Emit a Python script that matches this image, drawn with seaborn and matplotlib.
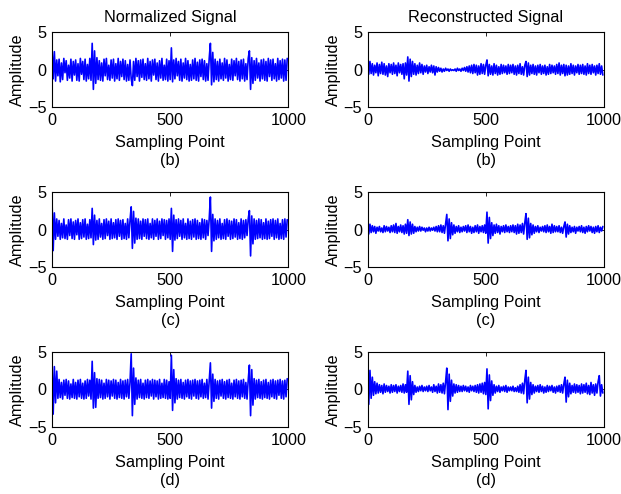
import numpy as np
import pandas as pd
import matplotlib
matplotlib.use("Agg")
import matplotlib.pyplot as plt
import seaborn as sns

# sampling points (every 5th sample of 0..999)
sample_points = np.arange(0, 1000, 5)

norm_b = [
    3.0, -1.2, 2.4, -1.5, 1.3, -0.8, 1.4, -1.6, 0.9, -1.3, 1.5, -0.4, 1.2, -1.4, 0.6, -1.1, 1.4, -1.5, 1.1, -0.7,
    1.3, -1.4, 0.8, -1.5, 1.5, -0.6, 1.1, -1.3, 1.4, -1.5, 0.7, -1.2, 1.5, -1.4, 3.5, -2.6, 2.5, -1.8, 1.6, -1.3,
    1.2, -1.4, 0.9, -1.5, 1.4, -0.8, 1.5, -1.3, 0.6, -1.4, 1.3, -1.1, 1.4, -1.5, 0.8, -1.2, 1.5, -1.4, 1.1, -0.9,
    1.4, -1.3, 1.2, -1.5, 0.7, -1.4, 1.3, -1.2, -2.1, 1.1, -1.4, 1.5, -0.9, 1.2, -1.5, 1.3, -1.0, 1.4, -1.3, 0.8,
    -1.4, 1.5, -1.2, 1.1, -1.5, 1.3, -0.7, 1.4, -1.3, 0.9, -1.5, 1.2, -1.1, 1.5, -1.4, 0.6, -1.3, 1.4, -1.5, 1.2,
    -1.3, 2.9, -1.6, 1.3, -1.2, 1.5, -0.8, 1.1, -1.4, 1.4, -1.5, 0.9, -1.1, 1.5, -1.3, 1.2, -1.5, 0.7, -1.4, 1.3,
    -1.2, 1.5, -1.4, 1.0, -1.5, 1.3, -0.9, 1.4, -1.3, 1.2, -1.5, 0.8, -1.4, 1.5, 3.5, -2.0, 2.3, -1.6, 1.4, -1.3,
    1.1, -1.5, 1.4, -1.2, 0.9, -1.4, 1.5, -1.1, 1.3, -1.5, 0.7, -1.3, 1.4, -1.4, 1.2, -0.8, 1.5, -1.3, 1.1, -1.5,
    1.3, -1.2, 1.4, -1.5, 0.8, -1.3, 1.5, 2.5, -2.6, 1.6, -1.8, 1.2, -1.4, 1.5, -1.1, 0.9, -1.5, 1.3, -1.2, 1.4,
    -1.4, 1.1, -1.5, 1.5, -0.9, 1.3, -1.4, 1.4, -1.2, 0.8, -1.5, 1.5, -1.3, 1.2, -1.1, 1.4, -1.5, 1.3, -1.4, 1.5,
]

recon_b = [
    0.9, -0.6, 1.1, -0.5, 0.8, -0.7, 0.6, -0.4, 0.9, -0.8, 0.7, -0.5, 1.0, -0.6, 0.8, -0.7, 0.5, -0.9, 0.8, -0.4,
    0.7, -0.6, 0.9, -0.5, 0.6, -0.8, 0.9, -0.4, 0.7, -0.6, 0.8, -1.2, 0.9, -0.7, 1.7, -1.5, 1.4, -0.9, 1.1, -0.6,
    0.8, -0.7, 0.6, -0.5, 0.9, -0.4, 0.7, -0.6, 0.5, -0.3, 0.6, -0.5, 0.4, -0.3, 0.6, -0.4, 0.5, -0.7, 0.4, -0.3,
    0.3, -0.2, 0.2, -0.3, 0.1, -0.2, 0.2, -0.1, 0.1, -0.2, 0.1, -0.1, 0.0, -0.1, 0.1, -0.2, 0.2, -0.1, 0.1, -0.2,
    0.2, -0.1, 0.3, -0.2, 0.4, -0.3, 0.5, -0.4, 0.6, -0.5, 0.7, -0.4, 0.6, -0.7, 0.5, -0.6, 0.8, -0.5, 0.7, -0.6,
    0.6, 1.3, -0.8, 0.7, -0.6, 0.5, -0.7, 0.8, -0.5, 0.6, -0.7, 0.4, -0.6, 0.7, -0.5, 0.6, -0.4, 0.5, -0.6, 0.7,
    -0.5, 0.6, -0.4, 0.7, -0.6, 0.5, -0.7, 0.6, -0.5, 0.8, -0.6, 0.4, -0.7, 0.6, 1.1, -0.9, 0.9, -0.7, 0.6, -0.5,
    0.7, -0.6, 0.5, -0.7, 0.6, -0.4, 0.7, -0.6, 0.5, -0.5, 0.6, -0.7, 0.4, -0.6, 0.7, -0.5, 0.6, -0.4, 0.5, -0.6,
    0.7, -0.5, 0.9, -0.7, 0.6, -0.5, 0.7, -0.8, 0.6, -0.7, 0.5, -0.6, 0.8, -0.5, 0.6, -0.7, 0.5, -0.4, 0.7, -0.6,
    0.6, -0.5, 0.7, -0.6, 0.5, -0.7, 0.8, -0.5, 0.6, -0.6, 0.7, -0.4, 0.5, -0.7, 0.6, -0.5, 0.8, -0.6, 0.5, -0.7,
]

norm_c = [
    4.0, -2.8, 2.2, -1.3, 1.4, -0.9, 1.2, -1.3, 0.8, -1.1, 1.4, -1.2, 0.6, -1.3, 1.3, -0.8, 1.4, -1.2, 1.0, -1.3,
    1.2, -0.7, 1.4, -1.3, 0.9, -1.2, 1.3, -1.0, 1.4, -1.3, 0.7, -1.2, 1.3, -1.1, 2.8, -2.0, 1.9, -1.4, 1.2, -1.3,
    1.4, -1.0, 0.8, -1.3, 1.3, -1.2, 1.4, -0.8, 1.1, -1.3, 1.4, -1.2, 0.9, -1.1, 1.3, -1.3, 1.4, -0.9, 1.2, -1.3,
    1.3, -1.2, 0.8, -1.3, 1.4, -1.1, 1.2, 3.0, -2.5, 2.4, -1.8, 1.5, -1.3, 1.4, -1.2, 1.1, -1.3, 1.4, -0.9, 1.3,
    -1.2, 1.4, -1.3, 0.8, -1.1, 1.4, -1.3, 1.2, -0.9, 1.4, -1.3, 1.1, -1.2, 1.4, -0.8, 1.3, -1.3, 1.2, -1.1, 1.4,
    -1.3, 2.8, -2.9, 1.9, -1.4, 1.3, -1.2, 1.4, -0.9, 1.2, -1.3, 1.4, -1.1, 0.8, -1.3, 1.4, -1.2, 1.1, -1.3, 1.3,
    -1.0, 1.4, -1.3, 1.2, -1.2, 0.9, -1.3, 1.4, -1.1, 1.3, -1.3, 1.2, -0.8, 1.4, 4.3, -2.9, 2.0, -1.5, 1.4, -1.3,
    1.2, -1.1, 1.4, -1.3, 0.8, -1.2, 1.3, -1.3, 1.4, -0.9, 1.2, -1.3, 1.1, -1.2, 1.4, -1.0, 1.3, -1.3, 0.9, -1.2,
    1.4, -1.3, 1.2, -1.1, 1.3, -0.8, 1.4, 2.5, -3.5, 1.8, -1.9, 1.4, -1.3, 1.2, -1.2, 1.4, -1.1, 1.3, -1.3, 0.9,
    -1.2, 1.4, -1.3, 1.1, -1.2, 1.3, -0.9, 1.4, -1.3, 1.2, -1.1, 1.4, -1.3, 0.8, -1.2, 1.3, -1.3, 1.4, -1.0, 1.3,
]

recon_c = [
    1.3, -0.6, 0.7, -0.4, 0.5, -0.3, 0.4, -0.5, 0.3, -0.2, 0.4, -0.3, 0.2, -0.4, 0.5, -0.3, 0.4, -0.2, 0.3, -0.4,
    0.5, -0.3, 0.6, -0.4, 0.8, -0.5, 0.4, -0.3, 0.6, -0.4, 0.5, -0.6, 0.7, -0.5, 1.3, -0.8, 1.0, -0.6, 0.7, -0.5,
    0.4, -0.3, 0.3, -0.2, 0.4, -0.2, 0.3, -0.1, 0.2, -0.3, 0.2, -0.2, 0.3, -0.2, 0.2, -0.1, 0.3, -0.2, 0.4, -0.3,
    0.5, -0.3, 0.6, -0.4, 0.5, -0.5, 0.7, 2.0, -1.5, 1.4, -1.2, 0.9, -0.7, 0.6, -0.5, 0.4, -0.3, 0.5, -0.4, 0.3,
    -0.3, 0.4, -0.2, 0.5, -0.4, 0.6, -0.3, 0.4, -0.5, 0.3, -0.4, 0.5, -0.3, 0.6, -0.5, 0.4, -0.3, 0.5, -0.4, 0.6,
    -0.5, 2.3, -1.8, 1.6, -1.2, 0.9, -0.8, 0.6, -0.5, 0.7, -0.4, 0.5, -0.6, 0.4, -0.3, 0.5, -0.4, 0.6, -0.3, 0.4,
    -0.4, 0.5, -0.3, 0.6, -0.4, 0.5, -0.6, 0.7, -0.5, 0.6, -0.4, 0.8, -0.6, 0.9, 2.1, -1.3, 1.5, -1.1, 0.8, -0.7,
    0.6, -0.5, 0.4, -0.3, 0.5, -0.4, 0.3, -0.2, 0.4, -0.3, 0.5, -0.4, 0.6, -0.3, 0.4, -0.5, 0.7, -0.4, 0.5, -0.3,
    0.4, -0.3, 0.5, -0.4, 0.3, -0.5, 0.4, 1.0, -1.0, 0.7, -0.6, 0.5, -0.4, 0.3, -0.3, 0.4, -0.5, 0.3, -0.2, 0.4,
    -0.3, 0.5, -0.4, 0.3, -0.5, 0.4, -0.3, 0.5, -0.2, 0.4, -0.4, 0.3, -0.5, 0.4, -0.3, 0.5, -0.4, 0.3, -0.2, 0.4,
]

norm_d = [
    3.7, -3.3, 3.0, -1.8, 2.4, -1.2, 1.3, -1.1, 0.9, -1.3, 1.2, -0.8, 1.3, -1.2, 1.1, -1.3, 0.7, -1.1, 1.3, -1.2,
    0.9, -1.3, 1.2, -1.0, 1.3, -1.2, 0.8, -1.3, 1.1, -1.2, 1.3, -0.9, 1.2, -1.3, 3.7, -2.5, 2.2, -2.4, 1.4, -1.2,
    1.3, -1.1, 1.2, -1.3, 0.8, -1.2, 1.3, -1.0, 1.2, -1.3, 1.1, -0.9, 1.3, -1.2, 1.2, -1.3, 0.9, -1.1, 1.3, -1.2,
    1.1, -1.3, 1.2, -1.0, 1.3, -1.2, 0.9, 4.7, -3.5, 2.8, -2.0, 1.5, -1.3, 1.2, -1.1, 1.3, -1.2, 0.8, -1.3, 1.2,
    -1.1, 1.3, -1.2, 1.1, -0.9, 1.3, -1.3, 1.2, -1.0, 1.1, -1.3, 1.3, -1.2, 0.8, -1.1, 1.3, -1.2, 1.2, -1.3, 1.0,
    -1.2, 4.5, -2.8, 2.6, -1.8, 1.4, -1.3, 1.2, -1.1, 1.3, -1.2, 0.9, -1.3, 1.2, -1.0, 1.3, -1.2, 1.1, -1.3, 1.2,
    -0.9, 1.3, -1.2, 1.1, -1.3, 1.2, -1.0, 1.3, -1.2, 0.8, -1.1, 1.3, -1.3, 1.2, 3.5, -2.5, 2.0, -1.6, 1.3, -1.2,
    1.1, -1.3, 1.2, -0.9, 1.3, -1.2, 1.0, -1.3, 1.2, -1.1, 1.3, -1.2, 0.8, -1.3, 1.2, -1.0, 1.3, -1.2, 1.1, -1.3,
    1.2, -1.0, 1.3, -1.2, 0.9, -1.3, 1.2, 3.2, -3.5, 2.6, -2.1, 1.4, -1.3, 1.2, -1.1, 1.3, -1.2, 1.0, -1.3, 1.2,
    -1.1, 1.3, -1.2, 0.9, -1.3, 1.2, -1.0, 1.3, -1.2, 1.1, -1.3, 1.2, -0.8, 1.3, -1.2, 1.1, -1.3, 1.2, -1.0, 1.4,
]

recon_d = [
    0.2, -2.0, 2.5, -1.2, 1.6, -0.8, 1.0, -0.6, 0.8, -0.5, 0.6, -0.4, 0.5, -0.6, 0.7, -0.4, 0.5, -0.3, 0.4, -0.5,
    0.6, -0.4, 0.5, -0.3, 0.6, -0.5, 0.4, -0.3, 0.5, -0.4, 0.7, -0.5, 0.6, -0.4, 2.4, -2.0, 1.8, -1.4, 1.0, -0.7,
    0.5, -0.4, 0.3, -0.3, 0.4, -0.2, 0.5, -0.3, 0.3, -0.2, 0.4, -0.3, 0.5, -0.2, 0.3, -0.4, 0.6, -0.3, 0.4, -0.5,
    0.7, -0.4, 0.6, -0.5, 0.8, -0.6, 1.0, 2.8, -2.7, 2.0, -1.6, 1.2, -0.9, 0.7, -0.5, 0.6, -0.4, 0.5, -0.3, 0.4,
    -0.3, 0.5, -0.2, 0.4, -0.3, 0.3, -0.4, 0.5, -0.2, 0.4, -0.3, 0.5, -0.4, 0.6, -0.5, 0.7, -0.4, 0.8, -0.6, 0.9,
    -0.7, 2.7, -2.6, 1.9, -1.5, 1.1, -0.8, 0.6, -0.5, 0.4, -0.3, 0.5, -0.4, 0.3, -0.2, 0.4, -0.3, 0.5, -0.4, 0.3,
    -0.2, 0.3, -0.2, 0.4, -0.3, 0.2, -0.3, 0.4, -0.4, 0.6, -0.5, 0.8, -0.6, 1.2, 2.5, -1.8, 1.6, -1.3, 0.9, -0.7,
    0.6, -0.5, 0.4, -0.3, 0.5, -0.4, 0.6, -0.3, 0.4, -0.5, 0.3, -0.4, 0.5, -0.3, 0.4, -0.2, 0.5, -0.4, 0.3, -0.5,
    0.4, -0.3, 0.5, -0.4, 0.6, -0.5, 0.7, 1.6, -1.7, 1.2, -1.0, 0.8, -0.6, 0.5, -0.4, 0.7, -0.5, 0.6, -0.4, 0.5,
    -0.6, 0.7, -0.5, 0.6, -0.4, 0.8, -0.6, 0.5, -0.7, 0.9, -0.5, 0.6, -0.8, 0.7, -0.5, 1.0, 1.8, -0.9, 0.6, -0.5,
]

col_titles = ["Normalized Signal", "Reconstructed Signal"]
row_tags = ["(b)", "(c)", "(d)"]
x_ticks = [0, 500, 1000]
y_ticks = [-5, 0, 5]
grid = [[norm_b, recon_b], [norm_c, recon_c], [norm_d, recon_d]]

sns.set_theme(style="white")
plt.rcParams["font.family"] = ["Liberation Sans", "DejaVu Sans"]
plt.rcParams["axes.edgecolor"] = "black"
plt.rcParams["axes.linewidth"] = 0.8
plt.rcParams["text.color"] = "black"
plt.rcParams["axes.labelcolor"] = "black"
plt.rcParams["xtick.color"] = "black"
plt.rcParams["ytick.color"] = "black"

fig, axes = plt.subplots(3, 2, figsize=(6.21, 4.94), dpi=100)
fig.subplots_adjust(left=52/621, right=604/621, top=1-32/494, bottom=1-427/494,
                    wspace=0.335, hspace=1.116)

fs = 11.7
for r in range(3):
    for c in range(2):
        ax = axes[r, c]
        df = pd.DataFrame({"x": sample_points, "y": grid[r][c]})
        sns.lineplot(data=df, x="x", y="y", ax=ax, color="#0000FF",
                     linewidth=1.2, estimator=None)
        ax.set_xlim(0, 1000)
        ax.set_ylim(-5, 5)
        ax.set_xticks(x_ticks)
        ax.set_yticks(y_ticks)
        ax.tick_params(direction="in", top=True, right=True, length=3,
                       width=0.6, labelsize=fs, pad=4, colors="black")
        ax.set_xlabel("Sampling Point\n" + row_tags[r], fontsize=fs,
                      labelpad=5, linespacing=1.25, color="black")
        ax.set_ylabel("Amplitude", fontsize=fs, color="black")
        ax.yaxis.set_label_coords(-27/236, 0.5)
        for s in ax.spines.values():
            s.set_visible(True)
            s.set_color("black")
        if r == 0:
            ax.set_title(col_titles[c], fontsize=fs, pad=7, color="black")

fig.savefig("out.png", dpi=100, facecolor="white")
